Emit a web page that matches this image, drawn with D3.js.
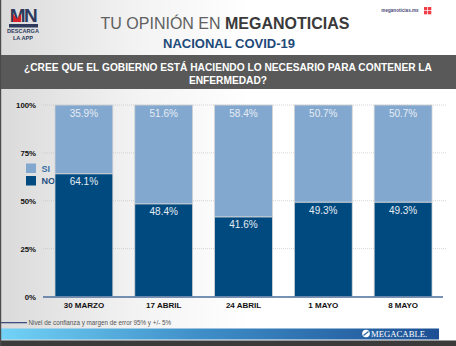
<!DOCTYPE html>
<html>
<head>
<meta charset="utf-8">
<script src="https://cdn.jsdelivr.net/npm/d3@7"></script>
<style>
  html, body { margin: 0; padding: 0; background: #fff; }
  svg { display: block; }
</style>
</head>
<body>
<svg id="chart" width="456" height="346"></svg>
<script>
// Survey dates and answer shares (%)
const categories = ["30 MARZO", "17 ABRIL", "24 ABRIL", "1 MAYO", "8 MAYO"];
const siValues = [35.9, 51.6, 58.4, 50.7, 50.7];
const noValues = [64.1, 48.4, 41.6, 49.3, 49.3];
const yTicks = [0, 25, 50, 75, 100];
const seriesNames = ["SI", "NO"];

const W = 456, H = 346;
const svg = d3.select("#chart");
const defs = svg.append("defs");

// page background: soft grey shading on the left side
const bg = defs.append("linearGradient").attr("id", "bgGrad").attr("x1", 0).attr("x2", 1).attr("y1", 0).attr("y2", 0);
bg.append("stop").attr("offset", "0%").attr("stop-color", "#dadada");
bg.append("stop").attr("offset", "30%").attr("stop-color", "#f3f3f3");
bg.append("stop").attr("offset", "55%").attr("stop-color", "#ffffff");
svg.append("rect").attr("width", W).attr("height", H).attr("fill", "url(#bgGrad)");

// footer band gradient
const fg = defs.append("linearGradient").attr("id", "footGrad").attr("x1", 0).attr("x2", 1).attr("y1", 0).attr("y2", 0);
fg.append("stop").attr("offset", "0%").attr("stop-color", "#72d3f7");
fg.append("stop").attr("offset", "45%").attr("stop-color", "#3f8fc8");
fg.append("stop").attr("offset", "100%").attr("stop-color", "#1c4f93");

// ---- header ----
const logo = svg.append("g");
logo.append("text").attr("x", 23).attr("y", 22).attr("text-anchor", "middle")
  .attr("font-family", "Liberation Sans, Arial, sans-serif").attr("font-weight", 700)
  .attr("font-size", 19).attr("fill", "#2d3a5c").attr("letter-spacing", -1.5).text("MN");
logo.append("path").attr("d", "M13,22 L13,14 L17,19 L21,14 L21,22 Z").attr("fill", "#d6232b");
logo.append("rect").attr("x", 9).attr("y", 24).attr("width", 29).attr("height", 3.5).attr("fill", "#2d3a5c");
logo.append("text").attr("x", 23).attr("y", 33).attr("text-anchor", "middle")
  .attr("font-family", "Liberation Sans, Arial, sans-serif").attr("font-weight", 700)
  .attr("font-size", 5.6).attr("fill", "#2d3a5c").text("DESCARGA");
logo.append("text").attr("x", 23).attr("y", 40).attr("text-anchor", "middle")
  .attr("font-family", "Liberation Sans, Arial, sans-serif").attr("font-weight", 700)
  .attr("font-size", 5.6).attr("fill", "#2d3a5c").text("LA APP");

svg.append("text").attr("x", 400).attr("y", 11.5).attr("text-anchor", "middle")
  .attr("font-family", "Liberation Sans, Arial, sans-serif").attr("font-weight", 700)
  .attr("font-size", 4.6).attr("fill", "#4a4a7a").text("meganoticias.mx");
const ico = svg.append("g").attr("transform", "translate(424,7)");
[[0,0],[4,0],[0,4],[4,4]].forEach(([a,b]) => ico.append("rect").attr("x", a).attr("y", b).attr("width", 3.3).attr("height", 3.3).attr("fill", "#ee3b45"));

const title = svg.append("text").attr("x", 225).attr("y", 29).attr("text-anchor", "middle")
  .attr("font-family", "Liberation Sans, Arial, sans-serif").attr("font-size", 16);
title.append("tspan").attr("fill", "#606060").attr("font-weight", 400).text("TU OPINIÓN EN ");
title.append("tspan").attr("fill", "#3a3a3a").attr("font-weight", 700).text("MEGANOTICIAS");

svg.append("text").attr("x", 229).attr("y", 48).attr("text-anchor", "middle")
  .attr("font-family", "Liberation Sans, Arial, sans-serif").attr("font-weight", 700)
  .attr("font-size", 13).attr("fill", "#1e4a7a").text("NACIONAL COVID-19");

// question band
svg.append("rect").attr("x", 0).attr("y", 55).attr("width", W).attr("height", 34).attr("fill", "#595959");
const q = svg.append("text").attr("text-anchor", "middle")
  .attr("font-family", "Liberation Sans, Arial, sans-serif").attr("font-weight", 700)
  .attr("font-size", 10.2).attr("fill", "#ffffff");
q.append("tspan").attr("x", 228).attr("y", 70.5).text("¿CREE QUE EL GOBIERNO ESTÁ HACIENDO LO NECESARIO PARA CONTENER LA");
q.append("tspan").attr("x", 228).attr("y", 83.5).text("ENFERMEDAD?");

// ---- chart ----
const x = d3.scaleBand().domain(categories).range([44, 443]).paddingInner(0.275).paddingOuter(0.1375);
const y = d3.scaleLinear().domain([0, 100]).range([296.5, 105]);

// gridlines
svg.append("g").selectAll("line").data(yTicks.filter(d => d > 0)).join("line")
  .attr("x1", 43).attr("x2", 446).attr("y1", d => y(d)).attr("y2", d => y(d))
  .attr("stroke", "#c8c8c8").attr("stroke-width", 0.8).attr("stroke-dasharray", "1,1");

// y axis labels
const yAxis = svg.append("g").attr("transform", "translate(38,0)")
  .call(d3.axisLeft(y).tickValues(yTicks).tickFormat(d => d + "%").tickSize(0).tickPadding(2));
yAxis.select(".domain").remove();
yAxis.selectAll("text").attr("font-family", "Liberation Sans, Arial, sans-serif")
  .attr("font-weight", 700).attr("font-size", 7.8).attr("fill", "#111");

// legend (behind bars)
const legColors = {SI: "#82a8cf", NO: "#004a7f"};
const legText = {SI: "#3a6ea5", NO: "#1f4e80"};
seriesNames.forEach((s, i) => {
  const yy = 163.5 + i * 12.5;
  svg.append("rect").attr("x", 26).attr("y", yy).attr("width", 10).attr("height", 9.5).attr("fill", legColors[s]);
  svg.append("text").attr("x", 41.5).attr("y", yy + 8).attr("font-family", "Liberation Sans, Arial, sans-serif")
    .attr("font-weight", 700).attr("font-size", 9).attr("fill", legText[s]).text(s);
});

// stacked bars
const rows = categories.map((c, i) => ({cat: c, NO: noValues[i], SI: siValues[i]}));
const stack = d3.stack().keys(["NO", "SI"])(rows);
const bars = svg.append("g");
stack.forEach(layer => {
  bars.append("g").selectAll("rect").data(layer).join("rect")
    .attr("x", d => x(d.data.cat)).attr("width", x.bandwidth())
    .attr("y", d => y(d[1])).attr("height", d => y(d[0]) - y(d[1]))
    .attr("fill", legColors[layer.key])
    .attr("stroke", "#d4d4d4").attr("stroke-width", 0.8);
});

// value labels
const lab = svg.append("g").attr("font-family", "Liberation Sans, Arial, sans-serif")
  .attr("font-size", 10).attr("fill", "#e6ecf4").attr("text-anchor", "middle");
stack.forEach(layer => {
  lab.append("g").selectAll("text").data(layer).join("text")
    .attr("x", d => x(d.data.cat) + x.bandwidth() / 2)
    .attr("y", d => y(d[1]) + 11.5)
    .text(d => d.data[layer.key].toFixed(1) + "%");
});

// baseline
svg.append("line").attr("x1", 43).attr("x2", 443).attr("y1", y(0) + 0.5).attr("y2", y(0) + 0.5)
  .attr("stroke", "#4a6e9c").attr("stroke-width", 1.4);

// x axis labels
const xAxis = svg.append("g").attr("transform", `translate(0,${y(0)})`)
  .call(d3.axisBottom(x).tickSize(0).tickPadding(6));
xAxis.select(".domain").remove();
xAxis.selectAll("text").attr("font-family", "Liberation Sans, Arial, sans-serif")
  .attr("font-weight", 700).attr("font-size", 8).attr("fill", "#111");

// ---- footer ----
svg.append("rect").attr("x", 0).attr("y", 322).attr("width", 27).attr("height", 1.3).attr("fill", "#3d4f7e");
svg.append("text").attr("x", 28.5).attr("y", 325).attr("font-family", "Liberation Sans, Arial, sans-serif")
  .attr("font-size", 6.3).attr("fill", "#555").text("Nivel de confianza y margen de error 95% y +/- 5%");
svg.append("rect").attr("x", 0).attr("y", 328.5).attr("width", 439).attr("height", 11).attr("fill", "url(#footGrad)");
svg.append("rect").attr("x", 0).attr("y", 340.5).attr("width", W).attr("height", 5.5).attr("fill", "#3a3a3a");
svg.append("circle").attr("cx", 366).attr("cy", 333.5).attr("r", 3.8).attr("fill", "#fff");
svg.append("path").attr("d", "M363.5,335.5 L368.5,331.5").attr("stroke", "#2a66a8").attr("stroke-width", 1.2);
svg.append("text").attr("x", 371).attr("y", 337).attr("font-family", "Liberation Serif, Times New Roman, serif")
  .attr("font-size", 8.7).attr("fill", "#fff").text("MEGACABLE.");

// left frame edge
svg.append("rect").attr("x", 0).attr("y", 0).attr("width", 1.2).attr("height", H).attr("fill", "#4a4a4a");
</script>
</body>
</html>
